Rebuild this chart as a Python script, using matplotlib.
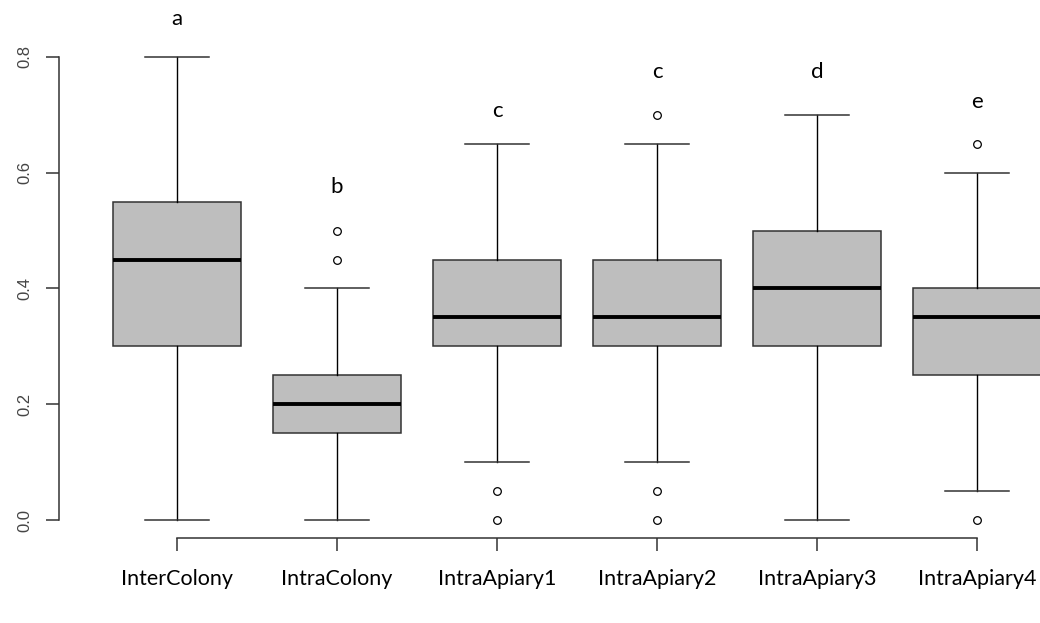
import matplotlib
matplotlib.use("Agg")
import matplotlib.pyplot as plt

# ---- data ----
groups = ["InterColony", "IntraColony", "IntraApiary1",
          "IntraApiary2", "IntraApiary3", "IntraApiary4"]
medians = [0.45, 0.20, 0.35, 0.35, 0.40, 0.35]
q1 = [0.30, 0.15, 0.30, 0.30, 0.30, 0.25]
q3 = [0.55, 0.25, 0.45, 0.45, 0.50, 0.40]
whisk_lo = [0.00, 0.00, 0.10, 0.10, 0.00, 0.05]
whisk_hi = [0.80, 0.40, 0.65, 0.65, 0.70, 0.60]
fliers = [[], [0.45, 0.50], [0.00, 0.05], [0.00, 0.05, 0.70], [], [0.00, 0.65]]
letters = ["a", "b", "c", "c", "d", "e"]
letter_y = [0.855, 0.565, 0.696, 0.764, 0.764, 0.712]

# ---- figure geometry (pixels of the reference) ----
W, H, DPI = 1040, 623, 100
px_left, px_right, px_top, px_bottom = 59, 1040, 0, 538
x_px0, x_unit = 177, 160          # x=1 at 177 px, 160 px per group
y_px0, y_unit = 520, 578.75       # y=0 at 520 px, 578.75 px per unit

fig = plt.figure(figsize=(W / DPI, H / DPI), dpi=DPI)
ax = fig.add_axes([px_left / W, 1 - px_bottom / H,
                   (px_right - px_left) / W, (px_bottom - px_top) / H])
ax.set_xlim(1 + (px_left - x_px0) / x_unit, 1 + (px_right - x_px0) / x_unit)
ax.set_ylim((y_px0 - px_bottom) / y_unit, (y_px0 - px_top) / y_unit)

stats = []
for i in range(len(groups)):
    stats.append(dict(med=medians[i], q1=q1[i], q3=q3[i],
                      whislo=whisk_lo[i], whishi=whisk_hi[i],
                      fliers=fliers[i], label=groups[i]))

line_col = "#333333"
positions = list(range(1, len(groups) + 1))
ax.bxp(stats, positions=positions, widths=0.8, patch_artist=True,
       boxprops=dict(facecolor="#bebebe", edgecolor=line_col, linewidth=1.1),
       medianprops=dict(color="black", linewidth=2.8, solid_capstyle="butt"),
       whiskerprops=dict(color="black", linewidth=1.0),
       capprops=dict(color=line_col, linewidth=1.1),
       capwidths=0.4,
       flierprops=dict(marker="o", markersize=5.5, markerfacecolor="white",
                       markeredgecolor="black", markeredgewidth=0.9))

for pos, lab, ly in zip(positions, letters, letter_y):
    ax.text(pos, ly, lab, ha="center", va="baseline", fontsize=16,
            family=["Lato", "DejaVu Sans"], color="black")

for s in ("top", "right"):
    ax.spines[s].set_visible(False)
ax.spines["left"].set_bounds(0, 0.8)
ax.spines["bottom"].set_bounds(1, 6)
for s in ("left", "bottom"):
    ax.spines[s].set_color(line_col)
    ax.spines[s].set_linewidth(1.1)

ax.set_yticks([0.0, 0.2, 0.4, 0.6, 0.8])
ax.set_yticklabels(["0.0", "0.2", "0.4", "0.6", "0.8"], rotation=90,
                   va="center", family=["Liberation Sans", "DejaVu Sans"],
                   fontsize=12, color="#444444")
ax.set_xticks(positions)
ax.set_xticklabels(groups, family=["Lato", "DejaVu Sans"], fontsize=15.5,
                   color="black")
ax.tick_params(axis="y", length=9.4, width=1.1, color=line_col, pad=10,
               labelsize=12)
ax.tick_params(axis="x", length=9.4, width=1.1, color=line_col, pad=13)

fig.savefig("out.png", dpi=DPI)
